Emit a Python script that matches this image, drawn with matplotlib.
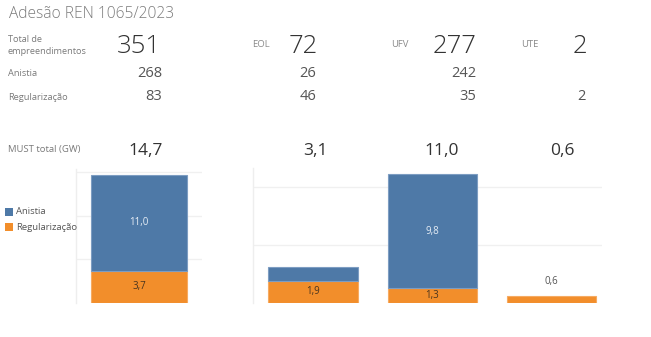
import matplotlib
matplotlib.use("Agg")
import matplotlib.pyplot as plt
from matplotlib.patches import Rectangle

plt.rcParams['font.family'] = ['Open Sans', 'DejaVu Sans']

# ---- data ----
title = "Adesão REN 1065/2023"
sources = ["EOL", "UFV", "UTE"]
total_count = 351
source_counts = [72, 277, 2]
anistia_total_count = 268
anistia_counts = [26, 242, None]
reg_total_count = 83
reg_counts = [46, 35, 2]

must_total = 14.7
must_by_source = [3.1, 11.0, 0.6]
anistia_total_gw = 11.0
reg_total_gw = 3.7
anistia_gw = [1.2, 9.8, 0.0]
reg_gw = [1.9, 1.3, 0.6]
# segment labels shown on the per-source chart (None = not labelled)
anistia_gw_labels = [None, "9,8", None]
reg_gw_labels = ["1,9", "1,3", "0,6"]

series_names = ["Anistia", "Regularização"]
colors = {"Anistia": "#4e79a7", "Regularização": "#f28e2b"}
edge = {"Anistia": "#7d9dc2", "Regularização": "#f6ab62"}

W, H = 651, 337
fig = plt.figure(figsize=(W / 100, H / 100), dpi=100)
fig.patch.set_facecolor("white")


def fx(x):
    return x / W


def fy(y):
    return 1 - y / H


def ptext(x, y, s, size, color, ha="left", va="baseline", **kw):
    fig.text(fx(x), fy(y), s, fontsize=size, color=color, ha=ha, va=va, **kw)


def fmt(v):
    return f"{v:.1f}".replace(".", ",")


LABEL = "#7a7a7a"
BIG = "#333333"
MID = "#555555"

# ---- header ----
ptext(9, 18.5, title, 11.2, "#7a7a7a", fontweight="light")

ptext(8, 42, "Total de", 6.6, LABEL)
ptext(8, 54, "empreendimentos", 6.6, LABEL)
ptext(161, 53, str(total_count), 18.5, BIG, ha="right", fontweight="light")

src_label_x = [252.5, 391.5, 521.5]
col_right = [318, 476, 587]
for name, lx, rx, n in zip(sources, src_label_x, col_right, source_counts):
    ptext(lx, 47, name, 6.8, "#8a8a8a")
    ptext(rx, 53, str(n), 18.5, BIG, ha="right", fontweight="light")

ptext(8, 76.5, "Anistia", 6.7, LABEL)
ptext(162.5, 77.3, str(anistia_total_count), 10.5, MID, ha="right")
for rx, n in zip([316, 476.5, 586], anistia_counts):
    if n is not None:
        ptext(rx, 77.3, str(n), 10.5, MID, ha="right")

ptext(8, 100, "Regularização", 6.7, LABEL)
ptext(162.5, 100.5, str(reg_total_count), 10.5, MID, ha="right")
for rx, n in zip([316, 476.5, 585.5], reg_counts):
    ptext(rx, 100.5, str(n), 10.5, MID, ha="right")

# ---- MUST row ----
ptext(8, 151.7, "MUST total (GW)", 6.8, LABEL)
ptext(146, 155, fmt(must_total), 12.5, BIG, ha="center")
for cx, v in zip([315.8, 441.5, 562.2], must_by_source):
    ptext(cx, 155, fmt(v), 12.5, BIG, ha="center")

# ---- legend ----
for i, name in enumerate(series_names):
    y0 = 207.5 + i * 15.5
    fig.add_artist(Rectangle((fx(4.5), fy(y0 + 8)), 8 / W, 8 / H,
                             transform=fig.transFigure, facecolor=colors[name],
                             edgecolor="none"))
    ptext(16, y0 + 4.3, name, 6.8, MID, va="center")


def axes_px(x0, x1, ytop, ybot):
    return fig.add_axes([fx(x0), fy(ybot), (x1 - x0) / W, (ybot - ytop) / H])


def style(ax, grid):
    for s in ["top", "right", "bottom"]:
        ax.spines[s].set_visible(False)
    ax.spines["left"].set_color("#eeeeee")
    ax.spines["left"].set_linewidth(1)
    ax.set_xticks([])
    ax.set_yticks(grid)
    ax.tick_params(axis="y", length=0, labelleft=False)
    ax.grid(axis="y", color="#f0f0f0", linewidth=1)
    ax.set_axisbelow(True)
    ax.set_facecolor("none")


# ---- total chart ----
ax1 = axes_px(75.7, 202.3, 169, 302.7)
style(ax1, [5, 10, 15])
ax1.set_xlim(-0.5, 0.5)
ax1.set_ylim(0, (302.7 - 169) / 8.7)
w1 = 0.756
ax1.bar([0], [reg_total_gw], width=w1, color=colors["Regularização"],
        edgecolor=edge["Regularização"], linewidth=0.8)
ax1.bar([0], [anistia_total_gw], width=w1, bottom=[reg_total_gw],
        color=colors["Anistia"], edgecolor=edge["Anistia"], linewidth=0.8)
ax1.text(0, reg_total_gw / 2, fmt(reg_total_gw), ha="center", va="center",
         fontsize=7, color="#4a3520")
ax1.text(0, reg_total_gw + anistia_total_gw / 2, fmt(anistia_total_gw),
         ha="center", va="center", fontsize=7, color="#e6edf5")

# ---- per-source chart ----
ax2 = axes_px(253.3, 601.7, 168, 302.7)
style(ax2, [5, 10])
ax2.set_xlim(-0.501, 2.422)
ax2.set_ylim(0, (302.7 - 168) / 11.55)
x = list(range(len(sources)))
w2 = 0.749
ax2.bar(x, reg_gw, width=w2, color=colors["Regularização"],
        edgecolor=edge["Regularização"], linewidth=0.8)
an_x = [i for i, v in zip(x, anistia_gw) if v > 0]
an_v = [v for v in anistia_gw if v > 0]
an_b = [r for r, v in zip(reg_gw, anistia_gw) if v > 0]
ax2.bar(an_x, an_v, width=w2, bottom=an_b, color=colors["Anistia"],
        edgecolor=edge["Anistia"], linewidth=0.8)
for i in x:
    if anistia_gw_labels[i]:
        ax2.text(i, reg_gw[i] + anistia_gw[i] / 2, anistia_gw_labels[i],
                 ha="center", va="center", fontsize=7, color="#e6edf5")
    if reg_gw_labels[i]:
        if anistia_gw[i] == 0 and reg_gw[i] < 1:
            ax2.annotate(reg_gw_labels[i], (i, reg_gw[i]), xytext=(0, 6),
                         textcoords="offset points", ha="center", va="bottom",
                         fontsize=7, color="#555555")
        else:
            ax2.text(i, reg_gw[i] / 2, reg_gw_labels[i], ha="center",
                     va="center", fontsize=7, color="#4a3520")

fig.savefig("out.png", dpi=100, facecolor="white")
